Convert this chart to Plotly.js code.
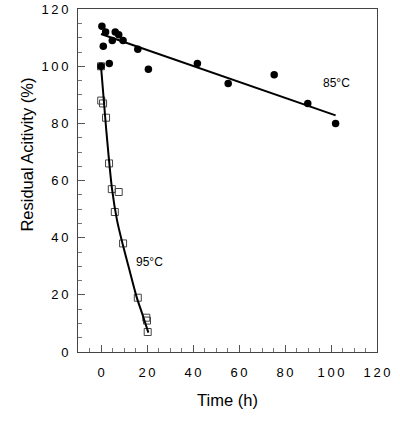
<!DOCTYPE html>
<html>
<head>
<meta charset="utf-8">
<script src="https://cdn.plot.ly/plotly-3.0.1.min.js"></script>
<style>html,body{margin:0;padding:0;background:#fff;}#chart{width:400px;height:422px;}</style>
</head>
<body>
<div id="chart"></div>
<script>
// 85°C series (filled circles)
const time85 = [0, 0.4, 1.0, 2.0, 3.6, 4.9, 6.2, 7.7, 9.6, 16.0, 20.6, 41.9, 55.3, 75.3, 89.9, 102.0];
const activity85 = [100, 114, 107, 112, 101, 109, 112, 111, 109, 106, 99, 101, 94, 97, 87, 80];
// 85°C fitted line (end points)
const fit85Time = [0, 102];
const fit85Value = [111.3, 82.8];

// 95°C series (open squares)
const time95 = [0, 0.1, 0.9, 2.2, 3.5, 4.7, 6.0, 7.7, 9.6, 16.0, 19.7, 20.0, 20.3];
const activity95 = [100, 88, 87, 82, 66, 57, 49, 56, 38, 19, 12, 11, 7];
// 95°C fitted curve
const fit95Time = [0, 2.2, 4.8, 7.0, 9.5, 12.0, 15.5, 18.0, 20.6];
const fit95Value = [100, 78.5, 57, 46, 37.5, 29.8, 19.2, 13.2, 6.8];

// tick labels
const xTickVals = [0, 20, 40, 60, 80, 100, 120];
const yTickVals = [0, 20, 40, 60, 80, 100, 120];
const spaced = v => String(v).split('').join('\u2009');

const FONT = 'Liberation Sans, Arial, sans-serif';

const traces = [
  {x: time95, y: activity95, type: 'scatter', mode: 'markers', name: '95°C',
   marker: {symbol: 'square-open', size: 7, color: '#444', line: {width: 1, color: '#444'}}},
  {x: fit95Time, y: fit95Value, type: 'scatter', mode: 'lines', name: '95°C fit',
   line: {color: '#000', width: 2, shape: 'spline', smoothing: 0.8}},
  {x: fit85Time, y: fit85Value, type: 'scatter', mode: 'lines', name: '85°C fit',
   line: {color: '#000', width: 2}},
  {x: time85, y: activity85, type: 'scatter', mode: 'markers', name: '85°C',
   marker: {symbol: 'circle', size: 7.5, color: '#000'}}
];

const axisCommon = {
  showgrid: false, zeroline: false, showline: true, linecolor: '#444', linewidth: 1,
  mirror: true, ticks: 'inside', ticklen: 7, tickwidth: 1, tickcolor: '#555',
  tickfont: {family: FONT, size: 13, color: '#000'},
  minor: {ticks: 'inside', ticklen: 4, tickwidth: 1, tickcolor: '#777', dtick: 5}
};

const layout = {
  width: 400, height: 422,
  margin: {l: 78, r: 23, t: 9, b: 70},
  paper_bgcolor: '#fff', plot_bgcolor: '#fff',
  showlegend: false,
  font: {family: FONT, color: '#000'},
  xaxis: Object.assign({}, axisCommon, {
    range: [-10, 120], tickmode: 'array', tickvals: xTickVals, ticktext: xTickVals.map(spaced),
    ticklabelstandoff: 8,
    title: {text: 'Time (h)', font: {family: FONT, size: 16.5, color: '#000'}, standoff: 15}
  }),
  yaxis: Object.assign({}, axisCommon, {
    range: [0, 120.05], tickmode: 'array', tickvals: yTickVals, ticktext: yTickVals.map(spaced),
    ticklabelstandoff: 6, ticklabeloverflow: 'allow'
  }),
  annotations: [
    {text: 'Residual Acitivity (%)', xref: 'paper', yref: 'paper', x: -0.17, y: 0.576,
     xanchor: 'center', yanchor: 'middle', textangle: -90, showarrow: false,
     font: {family: FONT, size: 16.5, color: '#000'}},
    {text: '85°C', x: 102.5, y: 94.2, xref: 'x', yref: 'y', showarrow: false,
     font: {family: FONT, size: 12, color: '#000'}},
    {text: '95°C', x: 21.3, y: 31.4, xref: 'x', yref: 'y', showarrow: false,
     font: {family: FONT, size: 12, color: '#000'}}
  ]
};

Plotly.newPlot('chart', traces, layout, {displayModeBar: false, staticPlot: true});
</script>
</body>
</html>
